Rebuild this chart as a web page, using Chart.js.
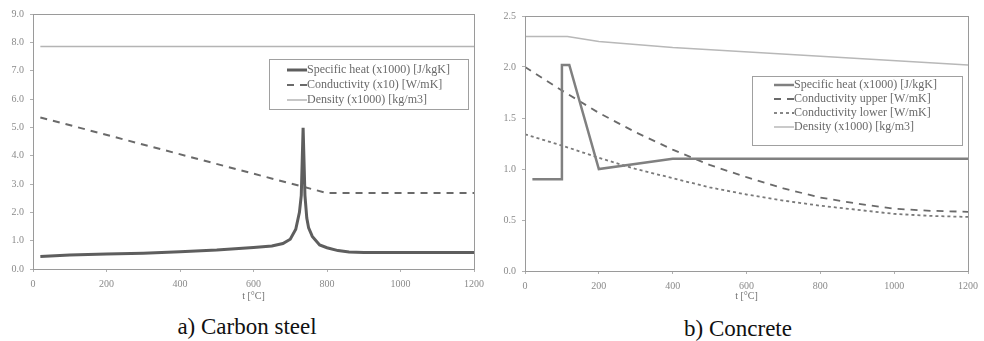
<!DOCTYPE html>
<html>
<head>
<meta charset="utf-8">
<script src="https://cdn.jsdelivr.net/npm/chart.js@4.4.1/dist/chart.umd.min.js"></script>
<style>
  body { margin: 0; background: #fff; width: 984px; height: 341px; position: relative; overflow: hidden; }
  .box { position: absolute; top: 0; height: 310px; }
  .cap { position: absolute; font-family: "Liberation Serif", "Times New Roman", serif; font-size: 23px; color: #111; white-space: nowrap; transform: translate(-50%, -50%); }
</style>
</head>
<body>
<div class="box" style="left:0;width:490px"><canvas id="chart-steel"></canvas></div>
<div class="box" style="left:490px;width:494px"><canvas id="chart-concrete"></canvas></div>
<div class="cap" style="left:247px;top:327px">a) Carbon steel</div>
<div class="cap" style="left:738px;top:329px">b) Concrete</div>
<script>
// ---- a) carbon steel ----
const steelHeatT = [20, 100, 200, 300, 400, 500, 600, 650, 680, 700, 715, 725, 730, 735, 740, 745, 750, 760, 780, 800, 830, 860, 900, 1200];
const steelHeat  = [0.44, 0.49, 0.53, 0.56, 0.61, 0.67, 0.76, 0.81, 0.9, 1.05, 1.4, 2.0, 2.6, 4.98, 2.6, 1.8, 1.45, 1.15, 0.85, 0.75, 0.65, 0.6, 0.58, 0.58];
const steelCondT = [20, 800, 1200];
const steelCond  = [5.35, 2.68, 2.68];
const steelDensT = [20, 1200];
const steelDens  = [7.85, 7.85];

// ---- b) concrete ----
const concHeatT = [20, 100, 100, 120, 200, 400, 1200];
const concHeat  = [0.9, 0.9, 2.02, 2.02, 1.0, 1.1, 1.1];
const concCondT = [0, 100, 200, 300, 400, 500, 600, 700, 800, 900, 1000, 1100, 1200];
const concCondUpper = [2.0, 1.77, 1.55, 1.36, 1.19, 1.04, 0.92, 0.81, 0.72, 0.66, 0.61, 0.59, 0.58];
const concCondLower = [1.34, 1.23, 1.11, 1.0, 0.91, 0.82, 0.75, 0.69, 0.64, 0.6, 0.56, 0.54, 0.53];
const concDensT = [0, 115, 200, 400, 1200];
const concDens  = [2.3, 2.3, 2.25, 2.19, 2.02];

const xTicks = [0, 200, 400, 600, 800, 1000, 1200];

const pts = (xs, ys) => xs.map((x, i) => ({ x: x, y: ys[i] }));
const SERIF = "'Liberation Serif', 'Times New Roman', serif";

// frame round the plot + legend box inside it
const framePlugin = {
  id: 'frame',
  afterDatasetsDraw(chart, args, opts) {
    const { ctx, chartArea: a } = chart;
    ctx.save();
    ctx.strokeStyle = '#9a9a9a';
    ctx.lineWidth = 1;
    ctx.strokeRect(a.left + 0.5, a.top + 0.5, a.right - a.left, a.bottom - a.top);

    const L = opts.legend;
    if (L) {
      ctx.fillStyle = '#fff';
      ctx.fillRect(L.x, L.y, L.w, L.h);
      ctx.strokeStyle = '#a0a0a0';
      ctx.strokeRect(L.x + 0.5, L.y + 0.5, L.w, L.h);
      ctx.font = '12px ' + SERIF;
      ctx.textBaseline = 'middle';
      chart.data.datasets.forEach((ds, i) => {
        const y = L.y + L.first + i * L.step;
        ctx.beginPath();
        ctx.setLineDash(ds.borderDash || []);
        ctx.strokeStyle = ds.borderColor;
        ctx.lineWidth = ds.borderWidth;
        ctx.moveTo(L.x + L.sx, y);
        ctx.lineTo(L.x + L.sx + 20, y);
        ctx.stroke();
        ctx.setLineDash([]);
        ctx.fillStyle = '#6a6a6a';
        ctx.fillText(ds.label, L.x + L.sx + 20, y);
      });
    }
    ctx.restore();
  }
};

function axes(yMax, yStep, yWidth, xHeight) {
  return {
    x: {
      type: 'linear', min: 0, max: 1200,
      afterBuildTicks: (s) => { s.ticks = xTicks.map(v => ({ value: v })); },
      afterFit: (s) => { s.height = xHeight; },
      grid: { drawOnChartArea: false, tickLength: 3, color: '#b0b0b0' },
      border: { color: '#9a9a9a' },
      ticks: { color: '#8a8a8a', padding: 6, font: { size: 10, family: SERIF }, callback: (v) => String(v) },
      title: { display: true, text: 't [°C]', color: '#707070', padding: { top: 2, bottom: 8 }, font: { size: 10, family: SERIF } }
    },
    y: {
      min: 0, max: yMax,
      afterFit: (s) => { s.width = yWidth; },
      grid: { drawOnChartArea: false, tickLength: 3, color: '#b0b0b0' },
      border: { color: '#9a9a9a' },
      ticks: { stepSize: yStep, color: '#8a8a8a', padding: 6, font: { size: 10, family: SERIF }, callback: (v) => v.toFixed(1) }
    }
  };
}

const common = {
  responsive: true,
  maintainAspectRatio: false,
  animation: false,
  plugins: { legend: { display: false }, tooltip: { enabled: false } },
  elements: { point: { radius: 0 }, line: { tension: 0 } }
};

new Chart(document.getElementById('chart-steel'), {
  type: 'line',
  data: {
    datasets: [
      { label: 'Specific heat (x1000) [J/kgK]', data: pts(steelHeatT, steelHeat), borderColor: '#5e5e5e', borderWidth: 3, fill: false },
      { label: 'Conductivity (x10) [W/mK]', data: pts(steelCondT, steelCond), borderColor: '#6a6a6a', borderWidth: 2, borderDash: [7, 6], fill: false },
      { label: 'Density (x1000) [kg/m3]', data: pts(steelDensT, steelDens), borderColor: '#b4b4b4', borderWidth: 1.5, fill: false }
    ]
  },
  options: Object.assign({}, common, {
    layout: { padding: { top: 14, right: 13, left: 0, bottom: 0 } },
    scales: axes(9, 1, 33, 41),
    plugins: Object.assign({}, common.plugins, {
      frame: { legend: { x: 269, y: 59, w: 199, h: 50, sx: 18, first: 11, step: 15 } }
    })
  }),
  plugins: [framePlugin]
});

new Chart(document.getElementById('chart-concrete'), {
  type: 'line',
  data: {
    datasets: [
      { label: 'Specific heat (x1000) [J/kgK]', data: pts(concHeatT, concHeat), borderColor: '#808080', borderWidth: 2.5, fill: false },
      { label: 'Conductivity upper [W/mK]', data: pts(concCondT, concCondUpper), borderColor: '#6a6a6a', borderWidth: 1.8, borderDash: [7, 6], fill: false },
      { label: 'Conductivity lower [W/mK]', data: pts(concCondT, concCondLower), borderColor: '#7a7a7a', borderWidth: 1.8, borderDash: [3, 3], fill: false },
      { label: 'Density (x1000) [kg/m3]', data: pts(concDensT, concDens), borderColor: '#b8b8b8', borderWidth: 1.5, fill: false }
    ]
  },
  options: Object.assign({}, common, {
    layout: { padding: { top: 16, right: 13, left: 0, bottom: 0 } },
    scales: axes(2.5, 0.5, 35, 39),
    plugins: Object.assign({}, common.plugins, {
      frame: { legend: { x: 262, y: 76, w: 210, h: 69, sx: 22, first: 9, step: 14 } }
    })
  }),
  plugins: [framePlugin]
});
</script>
</body>
</html>
